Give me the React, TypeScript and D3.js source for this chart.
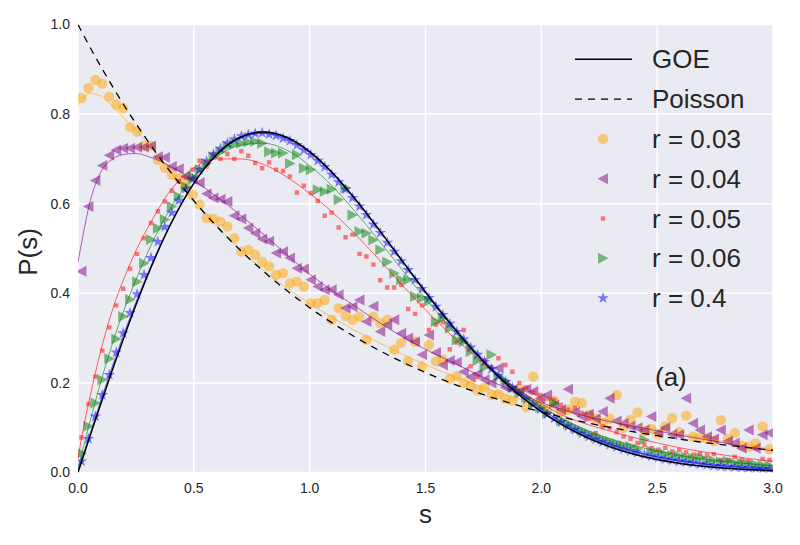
import React, { useEffect, useRef } from 'react';
import * as d3 from 'd3';

// centres of the histogram bins (bin width 0.03 on 0..3)
const binCentres = d3.range(100).map((i) => 0.015 + 0.03 * i);

const r003 = [
  0.836, 0.858, 0.876, 0.868, 0.839, 0.821, 0.813, 0.771, 0.761, 0.729,
  0.729, 0.698, 0.68, 0.665, 0.657, 0.64, 0.62, 0.598, 0.568, 0.566,
  0.56, 0.549, 0.523, 0.493, 0.497, 0.486, 0.47, 0.46, 0.441, 0.445,
  0.422, 0.426, 0.415, 0.378, 0.378, 0.385, 0.341, 0.367, 0.35, 0.341,
  0.348, 0.296, 0.348, 0.333, 0.341, 0.274, 0.29, 0.248, 0.292, 0.237,
  0.285, 0.248, 0.252, 0.209, 0.215, 0.2, 0.195, 0.183, 0.19, 0.173,
  0.175, 0.164, 0.16, 0.186, 0.146, 0.214, 0.158, 0.14, 0.16, 0.135,
  0.14, 0.158, 0.155, 0.129, 0.12, 0.11, 0.12, 0.173, 0.1, 0.118,
  0.134, 0.092, 0.097, 0.085, 0.103, 0.121, 0.09, 0.127, 0.08, 0.078,
  0.075, 0.07, 0.117, 0.075, 0.088, 0.06, 0.058, 0.065, 0.103, 0.052,
];
const r004 = [
  0.449, 0.594, 0.652, 0.685, 0.708, 0.72, 0.724, 0.724, 0.726, 0.726,
  0.729, 0.705, 0.703, 0.683, 0.678, 0.661, 0.655, 0.647, 0.622, 0.613,
  0.61, 0.605, 0.573, 0.566, 0.546, 0.534, 0.521, 0.516, 0.49, 0.493,
  0.479, 0.456, 0.454, 0.43, 0.415, 0.408, 0.408, 0.397, 0.367, 0.37,
  0.385, 0.337, 0.371, 0.315, 0.33, 0.341, 0.311, 0.3, 0.292, 0.263,
  0.307, 0.268, 0.24, 0.25, 0.246, 0.225, 0.213, 0.22, 0.207, 0.2,
  0.233, 0.19, 0.185, 0.18, 0.186, 0.181, 0.165, 0.173, 0.15, 0.14,
  0.186, 0.135, 0.125, 0.13, 0.12, 0.136, 0.166, 0.115, 0.11, 0.103,
  0.1, 0.095, 0.125, 0.088, 0.1, 0.085, 0.084, 0.166, 0.11, 0.095,
  0.08, 0.075, 0.095, 0.07, 0.066, 0.054, 0.095, 0.054, 0.084, 0.088,
];
const r005 = [
  0.078, 0.153, 0.214, 0.272, 0.324, 0.373, 0.41, 0.455, 0.488, 0.523,
  0.557, 0.583, 0.605, 0.629, 0.65, 0.657, 0.676, 0.696, 0.683, 0.711,
  0.7, 0.711, 0.7, 0.717, 0.707, 0.691, 0.679, 0.692, 0.676, 0.673,
  0.661, 0.625, 0.64, 0.624, 0.606, 0.573, 0.58, 0.547, 0.525, 0.531,
  0.488, 0.482, 0.464, 0.429, 0.413, 0.413, 0.419, 0.365, 0.354, 0.373,
  0.318, 0.33, 0.335, 0.275, 0.29, 0.318, 0.237, 0.213, 0.25, 0.235,
  0.255, 0.24, 0.225, 0.2, 0.19, 0.178, 0.173, 0.165, 0.162, 0.151,
  0.14, 0.144, 0.133, 0.12, 0.088, 0.103, 0.099, 0.09, 0.08, 0.075,
  0.066, 0.062, 0.054, 0.051, 0.055, 0.047, 0.05, 0.045, 0.04, 0.042,
  0.038, 0.041, 0.028, 0.028, 0.035, 0.028, 0.025, 0.054, 0.03, 0.028,
];
const r006 = [
  0.043, 0.103, 0.155, 0.207, 0.254, 0.298, 0.348, 0.386, 0.426, 0.467,
  0.52, 0.545, 0.565, 0.594, 0.616, 0.638, 0.66, 0.676, 0.69, 0.705,
  0.716, 0.728, 0.733, 0.735, 0.738, 0.739, 0.735, 0.716, 0.713, 0.713,
  0.69, 0.709, 0.679, 0.676, 0.631, 0.627, 0.632, 0.609, 0.635, 0.575,
  0.538, 0.534, 0.519, 0.497, 0.47, 0.445, 0.43, 0.43, 0.393, 0.389,
  0.382, 0.337, 0.345, 0.322, 0.296, 0.292, 0.27, 0.25, 0.235, 0.263,
  0.215, 0.205, 0.19, 0.18, 0.168, 0.155, 0.145, 0.132, 0.155, 0.116,
  0.108, 0.1, 0.093, 0.086, 0.08, 0.074, 0.069, 0.064, 0.06, 0.058,
  0.052, 0.073, 0.047, 0.044, 0.041, 0.038, 0.036, 0.034, 0.031, 0.033,
  0.027, 0.026, 0.024, 0.025, 0.021, 0.02, 0.019, 0.018, 0.016, 0.015,
];
const r04 = [
  0.025, 0.075, 0.125, 0.173, 0.218, 0.268, 0.311, 0.356, 0.398, 0.441,
  0.479, 0.515, 0.548, 0.58, 0.607, 0.633, 0.655, 0.676, 0.695, 0.71,
  0.723, 0.735, 0.744, 0.751, 0.754, 0.757, 0.758, 0.755, 0.752, 0.746,
  0.74, 0.731, 0.72, 0.709, 0.696, 0.682, 0.665, 0.648, 0.632, 0.613,
  0.594, 0.575, 0.554, 0.535, 0.513, 0.493, 0.472, 0.452, 0.43, 0.41,
  0.39, 0.37, 0.352, 0.332, 0.314, 0.297, 0.279, 0.263, 0.247, 0.231,
  0.216, 0.202, 0.189, 0.176, 0.163, 0.152, 0.141, 0.13, 0.121, 0.112,
  0.103, 0.095, 0.087, 0.08, 0.074, 0.068, 0.062, 0.057, 0.052, 0.048,
  0.044, 0.04, 0.036, 0.033, 0.03, 0.027, 0.025, 0.023, 0.021, 0.019,
  0.017, 0.015, 0.014, 0.013, 0.012, 0.011, 0.01, 0.009, 0.008, 0.008,
];

// smooth curves, sampled at these s
const curveS = [
  0, 0.02, 0.05, 0.1, 0.15, 0.2, 0.25, 0.3, 0.4, 0.5, 0.6, 0.7, 0.8, 0.9,
  1.0, 1.1, 1.2, 1.3, 1.4, 1.5, 1.6, 1.7, 1.8, 1.9, 2.0, 2.1, 2.2, 2.3, 2.4,
  2.5, 2.6, 2.7, 2.8, 2.9, 3.0,
];
const goe = [
  0, 0.0314, 0.0784, 0.1559, 0.2315, 0.3044, 0.3739, 0.4391, 0.5541, 0.6454,
  0.7104, 0.7483, 0.7602, 0.7483, 0.7162, 0.668, 0.6083, 0.5416, 0.4718,
  0.4025, 0.3366, 0.2759, 0.2219, 0.1752, 0.1358, 0.1033, 0.0772, 0.0567,
  0.0409, 0.029, 0.0202, 0.0138, 0.0093, 0.0062, 0.004,
];
const poisson = [
  1, 0.9802, 0.9512, 0.9048, 0.8607, 0.8187, 0.7788, 0.7408, 0.6703, 0.6065,
  0.5488, 0.4966, 0.4493, 0.4066, 0.3679, 0.3329, 0.3012, 0.2725, 0.2466,
  0.2231, 0.2019, 0.1827, 0.1653, 0.1496, 0.1353, 0.1225, 0.1108, 0.1003,
  0.0907, 0.0821, 0.0743, 0.0672, 0.0608, 0.055, 0.0498,
];
const fit003 = [
  0.82, 0.835, 0.846, 0.84, 0.817, 0.79, 0.764, 0.735, 0.672, 0.607, 0.55,
  0.497, 0.452, 0.412, 0.377, 0.345, 0.316, 0.29, 0.264, 0.241, 0.219, 0.199,
  0.181, 0.165, 0.151, 0.139, 0.127, 0.116, 0.106, 0.096, 0.086, 0.077, 0.068,
  0.06, 0.052,
];
const fit004 = [
  0.47, 0.525, 0.6, 0.672, 0.7, 0.71, 0.712, 0.706, 0.683, 0.652, 0.615,
  0.575, 0.532, 0.487, 0.443, 0.405, 0.37, 0.335, 0.303, 0.275, 0.25, 0.225,
  0.2, 0.177, 0.156, 0.139, 0.125, 0.113, 0.103, 0.093, 0.083, 0.074, 0.065,
  0.056, 0.048,
];
const fit005 = [
  0.03, 0.09, 0.165, 0.275, 0.365, 0.435, 0.495, 0.545, 0.63, 0.68, 0.7,
  0.7, 0.688, 0.66, 0.623, 0.58, 0.53, 0.475, 0.418, 0.363, 0.312, 0.266,
  0.222, 0.185, 0.153, 0.126, 0.107, 0.092, 0.078, 0.066, 0.055, 0.046, 0.038,
  0.031, 0.025,
];
const fit006 = [
  0.01, 0.05, 0.11, 0.205, 0.29, 0.365, 0.43, 0.49, 0.59, 0.66, 0.705, 0.73,
  0.735, 0.72, 0.685, 0.638, 0.58, 0.517, 0.452, 0.388, 0.328, 0.273, 0.224,
  0.182, 0.147, 0.118, 0.094, 0.075, 0.06, 0.048, 0.038, 0.03, 0.024, 0.019,
  0.015,
];
const fit04 = [
  0.005, 0.036, 0.083, 0.163, 0.24, 0.312, 0.38, 0.443, 0.556, 0.646, 0.71,
  0.746, 0.757, 0.745, 0.713, 0.666, 0.607, 0.541, 0.473, 0.405, 0.34, 0.28,
  0.227, 0.181, 0.142, 0.109, 0.083, 0.063, 0.047, 0.035, 0.026, 0.019, 0.014,
  0.01, 0.007,
];

const xTicks = [0, 0.5, 1.0, 1.5, 2.0, 2.5, 3.0];
const yTicks = [0, 0.2, 0.4, 0.6, 0.8, 1.0];

const FONT = '"Liberation Sans", Arial, sans-serif';
const TEXT = '#262626';

const shapes: Record<string, string> = {
  circle: d3.symbol(d3.symbolCircle, 85)()!,
  left: 'M-5.5,0L5,-5.5L5,5.5Z',
  square: 'M-2.2,-2.2h4.4v4.4h-4.4Z',
  right: 'M5.5,0L-5,-5.5L-5,5.5Z',
  star: d3.symbol(d3.symbolStar, 42)()!,
};

const series = [
  { label: 'r = 0.03', color: '#FFA500', shape: 'circle', data: r003, fit: fit003 },
  { label: 'r = 0.04', color: '#800080', shape: 'left', data: r004, fit: fit004 },
  { label: 'r = 0.05', color: '#FF0000', shape: 'square', data: r005, fit: fit005 },
  { label: 'r = 0.06', color: '#008000', shape: 'right', data: r006, fit: fit006 },
  { label: 'r = 0.4', color: '#0000FF', shape: 'star', data: r04, fit: fit04 },
];

const App: React.FC = () => {
  const svgRef = useRef<SVGSVGElement | null>(null);

  useEffect(() => {
    document.body.style.margin = '0';
    const width = 800;
    const height = 545;
    const left = 78, right = 773, top = 24.5, bottom = 472.5;

    const svg = d3.select(svgRef.current).attr('width', width).attr('height', height);
    svg.selectAll('*').remove();

    const x = d3.scaleLinear().domain([0, 3]).range([left, right]);
    const y = d3.scaleLinear().domain([0, 1]).range([bottom, top]);

    svg.append('defs').append('clipPath').attr('id', 'plotclip')
      .append('rect').attr('x', left).attr('y', top)
      .attr('width', right - left).attr('height', bottom - top);

    svg.append('rect').attr('x', left).attr('y', top)
      .attr('width', right - left).attr('height', bottom - top)
      .attr('fill', '#EAEAF2');

    // grid
    const grid = svg.append('g').attr('stroke', '#fff').attr('stroke-width', 1.5);
    grid.selectAll('line.gx').data(xTicks).enter().append('line')
      .attr('x1', (d) => x(d)).attr('x2', (d) => x(d))
      .attr('y1', top).attr('y2', bottom);
    grid.selectAll('line.gy').data(yTicks).enter().append('line')
      .attr('x1', left).attr('x2', right)
      .attr('y1', (d) => y(d)).attr('y2', (d) => y(d));

    // tick labels
    svg.append('g').selectAll('text').data(xTicks).enter().append('text')
      .attr('x', (d) => x(d)).attr('y', 493)
      .attr('text-anchor', 'middle')
      .attr('font-family', FONT).attr('font-size', 14).attr('fill', TEXT)
      .text((d) => d.toFixed(1));
    svg.append('g').selectAll('text').data(yTicks).enter().append('text')
      .attr('x', 70).attr('y', (d) => y(d)).attr('dy', '0.35em')
      .attr('text-anchor', 'end')
      .attr('font-family', FONT).attr('font-size', 14).attr('fill', TEXT)
      .text((d) => d.toFixed(1));

    const plot = svg.append('g').attr('clip-path', 'url(#plotclip)');

    // measured points
    series.forEach((s) => {
      plot.append('g').selectAll('path').data(s.data).enter().append('path')
        .attr('d', shapes[s.shape])
        .attr('transform', (d, i) => `translate(${x(binCentres[i])},${y(d)})`)
        .attr('fill', s.color).attr('fill-opacity', 0.5);
    });

    const line = d3.line<number>()
      .x((_, i) => x(curveS[i]))
      .y((d) => y(d))
      .curve(d3.curveMonotoneX);

    // fitted curves
    series.forEach((s) => {
      plot.append('path').attr('d', line(s.fit))
        .attr('fill', 'none').attr('stroke', s.color)
        .attr('stroke-opacity', 0.6).attr('stroke-width', 1);
    });

    plot.append('path').attr('d', line(goe))
      .attr('fill', 'none').attr('stroke', '#000').attr('stroke-width', 1.5);
    plot.append('path').attr('d', line(poisson))
      .attr('fill', 'none').attr('stroke', '#000').attr('stroke-width', 1.3)
      .attr('stroke-dasharray', '7,6');

    // legend
    const lg = svg.append('g');
    const rowY = (k: number) => 59.3 + 39.8 * k;
    lg.append('line').attr('x1', 575).attr('x2', 632)
      .attr('y1', rowY(0)).attr('y2', rowY(0))
      .attr('stroke', '#000').attr('stroke-width', 1.5);
    lg.append('line').attr('x1', 575).attr('x2', 632)
      .attr('y1', rowY(1)).attr('y2', rowY(1))
      .attr('stroke', '#000').attr('stroke-width', 1.3).attr('stroke-dasharray', '7,6');
    series.forEach((s, k) => {
      lg.append('path').attr('d', shapes[s.shape])
        .attr('transform', `translate(603,${rowY(k + 2)})`)
        .attr('fill', s.color).attr('fill-opacity', 0.5);
    });
    const labels = ['GOE', 'Poisson', ...series.map((s) => s.label)];
    lg.selectAll('text').data(labels).enter().append('text')
      .attr('x', 652).attr('y', (_, k) => rowY(k)).attr('dy', '0.35em')
      .attr('font-family', FONT).attr('font-size', 26).attr('fill', TEXT)
      .text((d) => d);

    svg.append('text').attr('x', 655).attr('y', 377).attr('dy', '0.35em')
      .attr('font-family', FONT).attr('font-size', 26).attr('fill', TEXT)
      .text('(a)');

    // axis labels
    svg.append('text').attr('x', (left + right) / 2).attr('y', 523)
      .attr('text-anchor', 'middle')
      .attr('font-family', FONT).attr('font-size', 26).attr('fill', TEXT)
      .text('s');
    svg.append('text').attr('transform', 'translate(37,252) rotate(-90)')
      .attr('text-anchor', 'middle')
      .attr('font-family', FONT).attr('font-size', 26).attr('fill', TEXT)
      .text('P(s)');
  }, []);

  return <svg ref={svgRef}></svg>;
};

export default App;
